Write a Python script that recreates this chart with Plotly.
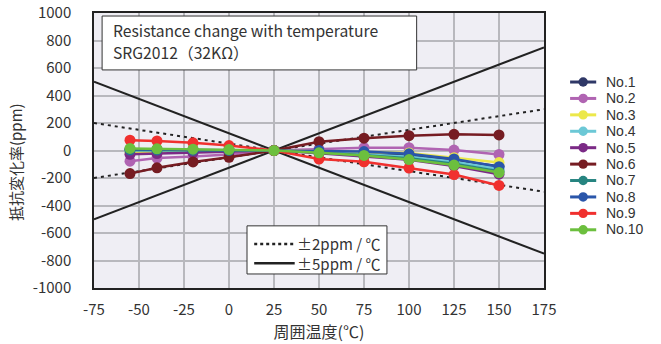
import plotly.graph_objects as go

# Temperatures (°C) at which resistance was measured
temps = [-55, -40, -20, 0, 25, 50, 75, 100, 125, 150]

# Resistance change (ppm) relative to 25 °C for each sample
no1 = [5, 4, 2, 1, 0, -6, -18, -32, -70, -115]
no2 = [-78, -55, -44, -29, 0, 10, 20, 20, 3, -29]
no3 = [-12, -10, -6, -4, 0, -5, -12, -18, -52, -88]
no4 = [0, 0, -1, -1, 0, -10, -25, -45, -82, -135]
no5 = [-28, -22, -16, -10, 0, -20, -42, -68, -112, -172]
no6 = [-168, -126, -83, -49, 0, 64, 90, 108, 118, 113]
no7 = [4, 4, 2, 1, 0, -13, -32, -56, -96, -150]
no8 = [10, 8, 6, 3, 0, 0, -8, -24, -61, -118]
no9 = [75, 70, 56, 36, 0, -62, -82, -128, -175, -254]
no10 = [15, 12, 10, 7, 0, -17, -36, -66, -106, -160]

series_names = ["No.1", "No.2", "No.3", "No.4", "No.5",
                "No.6", "No.7", "No.8", "No.9", "No.10"]
series_values = [no1, no2, no3, no4, no5, no6, no7, no8, no9, no10]
series_colors = ["#2f3867", "#b064b2", "#ece84a", "#6cc8d6", "#7b2a86",
                 "#761c22", "#268480", "#2a56aa", "#f0302e", "#6cbf3e"]

# Temperature coefficient guide lines (ppm/°C) through 25 °C
tcr_slopes = [2, 5]
tcr_labels = ["±2ppm / ℃", "±5ppm / ℃"]
guide_x = [-75, 175]
ref_temp = 25

x_ticks = [-75, -50, -25, 0, 25, 50, 75, 100, 125, 150, 175]
y_ticks = [-1000, -800, -600, -400, -200, 0, 200, 400, 600, 800, 1000]

FONT = "Noto Sans CJK JP, Noto Sans, sans-serif"
KEY_FONT = "Liberation Sans, Arial, sans-serif"
TEXT = "#333333"

fig = go.Figure()

# Guide lines, drawn beneath the measured data
for slope, dash in zip(tcr_slopes, ["3px,4px", "solid"]):
    for sign in (1, -1):
        fig.add_trace(go.Scatter(
            x=guide_x,
            y=[sign * slope * (t - ref_temp) for t in guide_x],
            mode="lines",
            line=dict(color="#222222", width=2, dash=dash),
            showlegend=False, hoverinfo="skip",
        ))

for name, vals, col in zip(series_names, series_values, series_colors):
    fig.add_trace(go.Scatter(
        x=temps, y=vals, name=name, mode="lines+markers",
        line=dict(color=col, width=2.5),
        marker=dict(color=col, size=11),
        showlegend=False,
    ))

# Series key at the right of the plot: swatches as shapes, names as one text block
key_top, key_step = 0.749, 0.0597
for i, col in enumerate(series_colors):
    yy = key_top - i * key_step
    fig.add_shape(type="line", xref="paper", yref="paper",
                  x0=1.058, x1=1.116, y0=yy, y1=yy,
                  line=dict(color=col, width=3))
    fig.add_shape(type="circle", xref="paper", yref="paper",
                  x0=1.087 - 0.0105, x1=1.087 + 0.0105,
                  y0=yy - 0.0172, y1=yy + 0.0172,
                  fillcolor=col, line=dict(color=col, width=0))
# line pitch comes from the base size (12.6 * 1.3 ≈ 16.4 px); names shown at 14 px
fig.add_annotation(xref="paper", yref="paper", x=1.134,
                   y=key_top - 4.5 * key_step,
                   xanchor="left", yanchor="middle", showarrow=False, align="left",
                   text="<br>".join(f'<span style="font-size:14px">{n}</span>'
                                    for n in series_names),
                   font=dict(family=KEY_FONT, size=12.6, color=TEXT))

# Title box
fig.add_shape(type="rect", xref="paper", yref="paper",
              x0=0.018, x1=0.717, y0=0.793, y1=0.989,
              fillcolor="white", line=dict(color="#333333", width=1), layer="above")
fig.add_annotation(xref="paper", yref="paper", x=0.038, y=0.935,
                   xanchor="left", yanchor="middle", showarrow=False,
                   text="Resistance change with temperature",
                   font=dict(family=FONT, size=15.7, color=TEXT))
fig.add_annotation(xref="paper", yref="paper", x=0.038, y=0.855,
                   xanchor="left", yanchor="middle", showarrow=False,
                   text="SRG2012（32KΩ）",
                   font=dict(family=FONT, size=15.7, color=TEXT))

# Key for the guide lines
fig.add_shape(type="rect", xref="paper", yref="paper",
              x0=0.340, x1=0.651, y0=0.051, y1=0.226,
              fillcolor="white", line=dict(color="#333333", width=1), layer="above")
for i, dash in enumerate(["dot", "solid"]):
    yy = 0.160 - i * 0.070
    fig.add_shape(type="line", xref="paper", yref="paper",
                  x0=0.356, x1=0.446, y0=yy, y1=yy, layer="above",
                  line=dict(color="#222222", width=2.5, dash=dash))
fig.add_annotation(xref="paper", yref="paper", x=0.447, y=0.125,
                   xanchor="left", yanchor="middle", showarrow=False,
                   text="<br>".join(tcr_labels), align="left",
                   font=dict(family=FONT, size=15, color=TEXT))

# Vertical axis title, set slightly below the plot's centre
fig.add_annotation(xref="paper", yref="paper", x=-0.1756, y=0.458,
                   xanchor="center", yanchor="middle", showarrow=False,
                   textangle=-90, text="抵抗変化率(ppm)",
                   font=dict(family=FONT, size=15, color=TEXT))

fig.update_layout(
    width=661, height=344,
    margin=dict(l=94, r=117, t=13, b=56),
    paper_bgcolor="white",
    plot_bgcolor="#efeef4",
    font=dict(family=FONT, size=13, color=TEXT),
    showlegend=False,
)
fig.update_xaxes(range=[-75, 175], tickvals=x_ticks, ticktext=[str(v) for v in x_ticks],
                 showgrid=True, gridcolor="#b8b8bd", gridwidth=1.5,
                 zeroline=False, showline=True, linecolor="#222222", linewidth=1.5,
                 mirror=True, ticks="", ticklabelstandoff=7, automargin=False,
                 title=dict(text="周囲温度(℃)", font=dict(family=FONT, size=16, color=TEXT),
                            standoff=2),
                 tickfont=dict(family=FONT, size=15, color=TEXT))
fig.update_yaxes(range=[-1000, 1000], tickvals=y_ticks, ticktext=[str(v) for v in y_ticks],
                 showgrid=True, gridcolor="#b8b8bd", gridwidth=1.5,
                 zeroline=False, showline=True, linecolor="#222222", linewidth=1.5,
                 mirror=True, ticks="", ticklabelstandoff=18, automargin=False,
                 tickfont=dict(family=FONT, size=15, color=TEXT))

fig.write_html("out.html")
